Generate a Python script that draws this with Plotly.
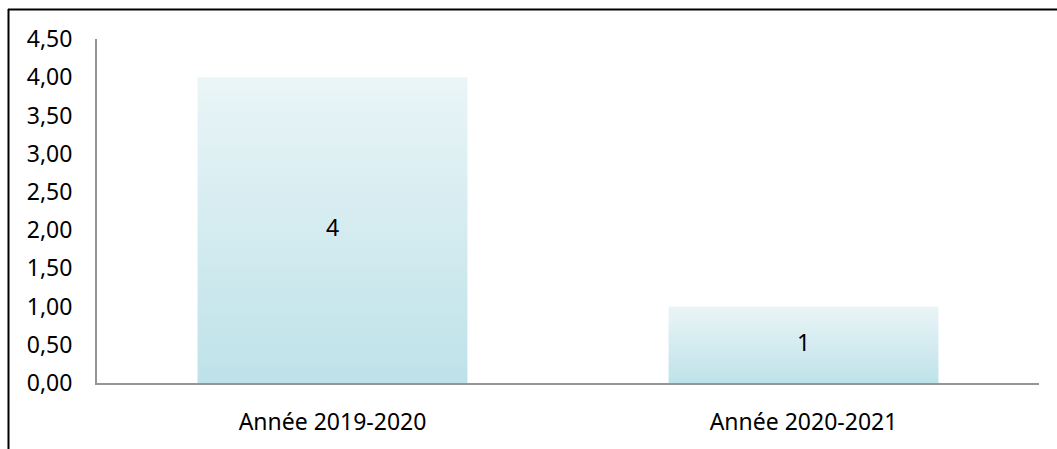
import plotly.graph_objects as go

# Chart data
categories = ["Année 2019-2020", "Année 2020-2021"]
values = [4, 1]
y_ticks = [0, 0.5, 1, 1.5, 2, 2.5, 3, 3.5, 4, 4.5]

W, H = 1057, 449
margin = dict(l=97, r=18, t=39, b=66)
bar_width = 0.573
font_family = "Noto Sans, Open Sans, Liberation Sans, sans-serif"
font_size = 23

fig = go.Figure()

# Bars drawn as filled shapes so each can carry a vertical gradient
for i, (cat, v) in enumerate(zip(categories, values)):
    x0, x1 = i - bar_width / 2, i + bar_width / 2
    fig.add_trace(go.Scatter(
        x=[x0, x1, x1, x0, x0],
        y=[0, 0, v, v, 0],
        mode="lines",
        fill="toself",
        fillgradient=dict(
            type="vertical",
            colorscale=[[0, "#BEE2E9"], [1, "#EAF5F7"]],
        ),
        line=dict(width=0),
        name=cat,
        hoverinfo="skip",
        showlegend=False,
    ))

# Value labels centred in each bar
fig.add_trace(go.Scatter(
    x=list(range(len(categories))),
    y=[v / 2 for v in values],
    mode="text",
    text=[str(v) for v in values],
    textfont=dict(family=font_family, size=font_size, color="#000000"),
    hoverinfo="skip",
    showlegend=False,
))

plot_w = W - margin["l"] - margin["r"]
plot_h = H - margin["t"] - margin["b"]


def px_to_paper_x(px):
    return (px - margin["l"]) / plot_w


def px_to_paper_y(py):
    return (H - margin["b"] - py) / plot_h


# Outer frame (top and left edges)
frame = dict(color="#000000", width=2)
fig.add_shape(type="line", xref="paper", yref="paper",
              x0=px_to_paper_x(8), x1=px_to_paper_x(W + 10),
              y0=px_to_paper_y(9.5), y1=px_to_paper_y(9.5), line=frame)
fig.add_shape(type="line", xref="paper", yref="paper",
              x0=px_to_paper_x(8.5), x1=px_to_paper_x(8.5),
              y0=px_to_paper_y(9), y1=px_to_paper_y(H + 10), line=frame)

fig.update_layout(
    width=W, height=H, autosize=False,
    margin=margin,
    paper_bgcolor="#FFFFFF", plot_bgcolor="#FFFFFF",
    separators=", ",
    font=dict(family=font_family, size=font_size, color="#000000"),
    showlegend=False,
)

fig.update_xaxes(
    range=[-0.5, len(categories) - 0.5],
    tickmode="array",
    tickvals=list(range(len(categories))),
    ticktext=categories,
    showgrid=False, zeroline=False,
    showline=True, linecolor="#959595", linewidth=2,
    ticks="", ticklabelstandoff=17,
    tickfont=dict(family=font_family, size=font_size, color="#000000"),
    fixedrange=True,
)

fig.update_yaxes(
    range=[0, 4.5],
    tickmode="array",
    tickvals=y_ticks,
    tickformat=".2f",
    showgrid=False, zeroline=False,
    showline=True, linecolor="#959595", linewidth=2,
    ticks="", ticklabelstandoff=18,
    tickfont=dict(family=font_family, size=font_size, color="#000000"),
    fixedrange=True,
)

fig.write_html("out.html")
